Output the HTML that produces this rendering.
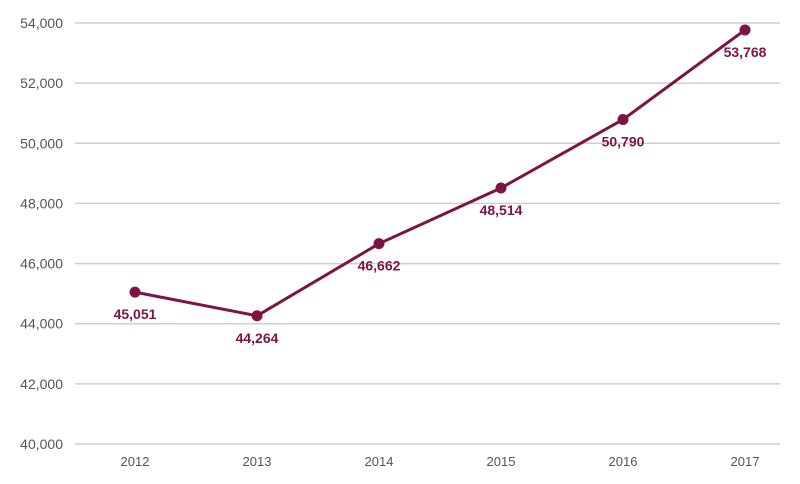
<!DOCTYPE html>
<html><head><meta charset="utf-8"><style>
body{margin:0;background:#fff;}
svg{display:block;font-family:"Liberation Sans",sans-serif;}
</style></head><body>
<svg id="chart" width="800" height="484"></svg>
<script>
const years=["2012","2013","2014","2015","2016","2017"];
const values=[45051,44264,46662,48514,50790,53768];
const labels=["45,051","44,264","46,662","48,514","50,790","53,768"];
const yTicks=[40000,42000,44000,46000,48000,50000,52000,54000];
const yTickLabels=["40,000","42,000","44,000","46,000","48,000","50,000","52,000","54,000"];
const NS="http://www.w3.org/2000/svg";
const svg=document.getElementById('chart');
const y=v=>444-(v-40000)/14000*421;
const x=i=>135+i*122;
function mk(t,a,p){const e=document.createElementNS(NS,t);for(const k in a)e.setAttribute(k,a[k]);(p||svg).appendChild(e);return e;}
yTicks.forEach((v,i)=>{
 const l=mk('line',{x1:75,x2:780,y1:y(v),y2:y(v),stroke:'#cfcfcf','stroke-width':1.5});
 
 
 const t=mk('text',{x:63,y:y(v)+5,'text-anchor':'end','font-size':14,fill:'#555'});
 t.textContent=yTickLabels[i];
 
 
});
years.forEach((yr,i)=>{
 const t=mk('text',{x:x(i),y:466,'text-anchor':'middle','font-size':13,fill:'#555'});
 t.textContent=yr;
 
 
});
const pl=mk('polyline',{points:values.map((v,i)=>x(i)+','+y(v)).join(' '),fill:'none',stroke:'#7d1445','stroke-width':3,'stroke-linejoin':'round'});


values.forEach((v,i)=>{
 const c=mk('circle',{cx:x(i),cy:y(v),r:5.5,fill:'#7d1445'});
 
 
 const t=mk('text',{x:x(i),y:y(v)+27,'text-anchor':'middle','font-size':14,'font-weight':'bold',fill:'#7d1445'});
 t.textContent=labels[i];
 
 
});
</script>
</body></html>
